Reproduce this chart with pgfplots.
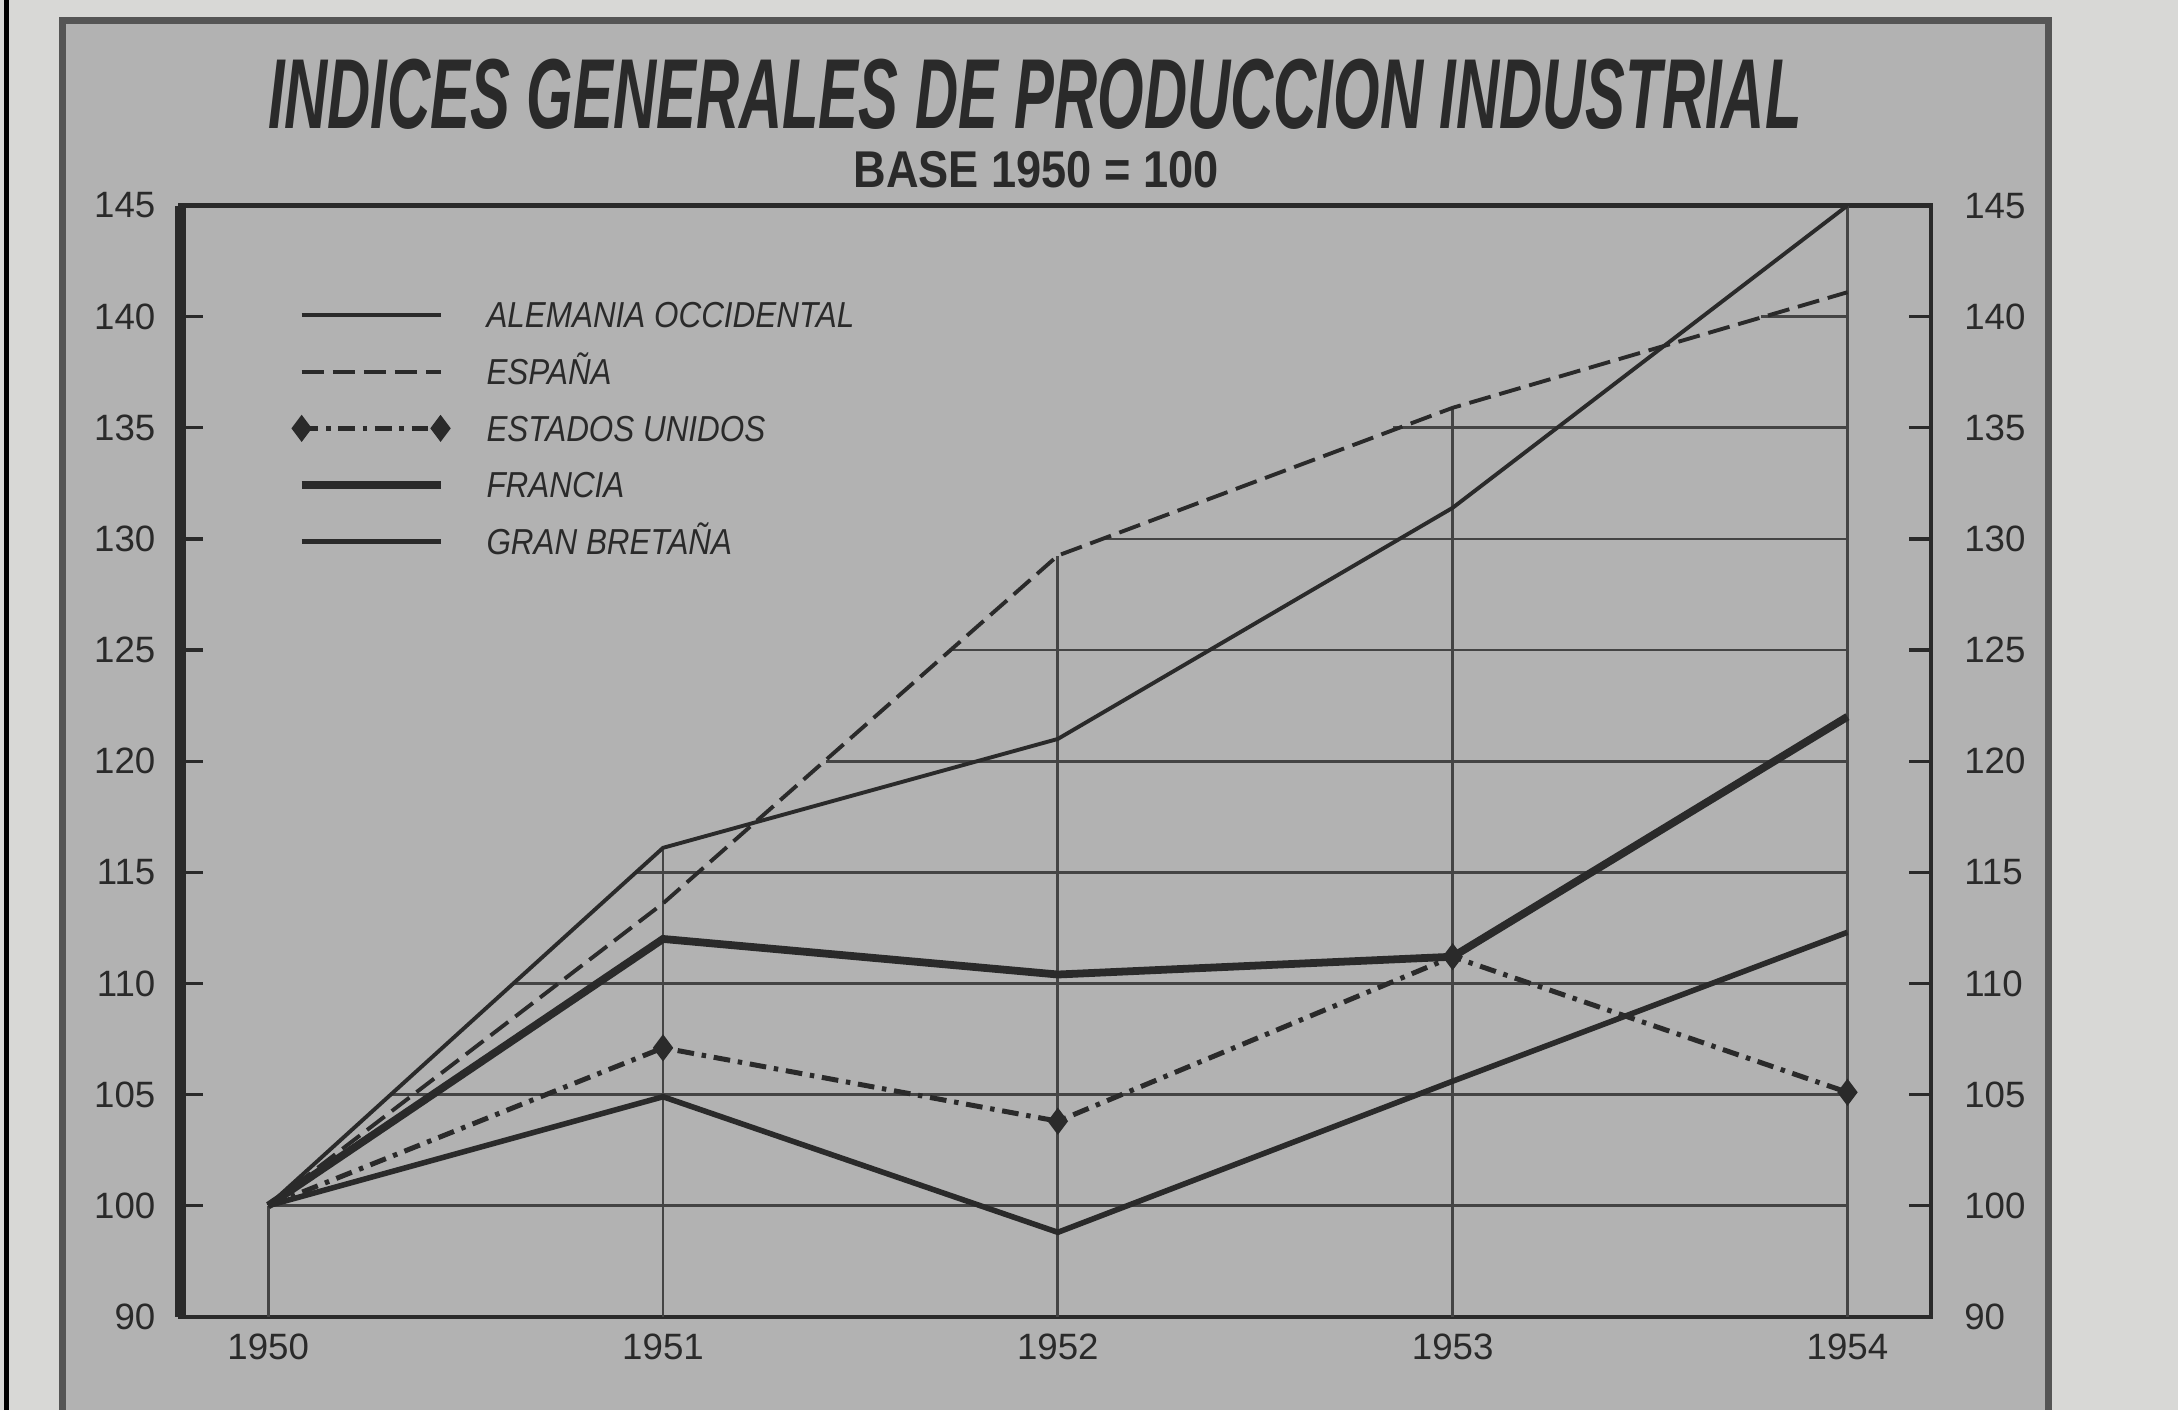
\documentclass[border=0pt]{standalone}
\usepackage{fontspec}
\setmainfont{Liberation Sans}
\usepackage{graphicx}
\usepackage{pgfplots}
\pgfplotsset{compat=1.18}
\definecolor{paper}{HTML}{D8D8D6}
\definecolor{panel}{HTML}{B2B2B2}
\definecolor{ink}{HTML}{2A2A2A}
\definecolor{gridc}{HTML}{444444}
\newcommand\legfont{\fontsize{6.5}{7}\selectfont\itshape}
\newcommand\tickfont{\fontsize{6.6}{8}\selectfont}
\newcommand\leg[1]{\scalebox{0.87}[1]{#1}}

\pgfplotstableread{
year A B C D E
1950 100 100 100 100 100
1951 116.1 113.6 107.1 112.0 104.9
1952 121.0 129.25 103.8 110.4 98.8
1953 131.4 135.9 111.2 111.2 105.6
1954 145.0 141.1 105.1 122.0 112.3
}\datatable

\begin{document}
\begin{tikzpicture}[x=1pt,y=1pt]
\useasboundingbox (0,0) rectangle (392,253.75);
\fill[paper] (0,0) rectangle (392,253.75);
\fill[panel] (11.25,0) rectangle (368.75,250);
\draw[ink!80, line width=1.2pt] (11.25,0) -- (11.25,250) -- (368.75,250) -- (368.75,0);
\draw[black, line width=1pt] (1.2,0) -- (1.2,253.75);
\node[ink] at (186.25,236.75) {\resizebox{276pt}{12.5pt}{\bfseries\itshape INDICES GENERALES DE PRODUCCION INDUSTRIAL}};
\node[ink] at (186.5,223.25) {\resizebox{65.75pt}{6.5pt}{\bfseries BASE 1950 = 100}};

\begin{axis}[
  at={(32.5pt,16.75pt)}, anchor=south west,
  scale only axis, width=315pt, height=200pt,
  xmin=1949.778, xmax=1954.211, ymin=95, ymax=145,
  axis line style={ink, line width=0.8pt},
  xtick={1950,1951,1952,1953,1954},
  xticklabels={1950,1951,1952,1953,1954},
  xtick style={draw=none},
  x tick label style={font=\tickfont, text=ink, yshift=0.5pt},
  ytick={95,100,105,110,115,120,125,130,135,140,145},
  yticklabels={90,100,105,110,115,120,125,130,135,140,145},
  y tick label style={font=\tickfont, text=ink, xshift=-1pt},
  ytick pos=both, tick align=inside, major tick length=4pt,
  ytick style={ink, line width=0.6pt},
  /pgf/number format/assume math mode=true,
  legend style={at={(axis description cs:0.0645,0.914)}, anchor=north west,
    draw=none, fill=none, font=\legfont, text=ink, row sep=5.6pt, column sep=7pt,
    inner sep=0pt, nodes={inner sep=0pt, text height=4.6pt, text depth=0pt}},
  legend cell align=left,
  legend image code/.code={\draw[mark indices={1,2}] plot coordinates {(0pt,0pt) (25pt,0pt)};},
  clip=false,
]
% grid (hand-drawn style: only below the upper curves)
\addplot[gridc, line width=0.5pt, forget plot] coordinates {(1950,100) (1954,100)};
\addplot[gridc, line width=0.5pt, forget plot] coordinates {(1950.311,105) (1954,105)};
\addplot[gridc, line width=0.5pt, forget plot] coordinates {(1950.621,110) (1954,110)};
\addplot[gridc, line width=0.5pt, forget plot] coordinates {(1950.932,115) (1954,115)};
\addplot[gridc, line width=0.5pt, forget plot] coordinates {(1951.413,120) (1954,120)};
\addplot[gridc, line width=0.5pt, forget plot] coordinates {(1951.730,125) (1954,125)};
\addplot[gridc, line width=0.5pt, forget plot] coordinates {(1952.113,130) (1954,130)};
\addplot[gridc, line width=0.5pt, forget plot] coordinates {(1952.850,135) (1954,135)};
\addplot[gridc, line width=0.5pt, forget plot] coordinates {(1953.780,140) (1954,140)};
\addplot[gridc, line width=0.5pt, forget plot] coordinates {(1950,95) (1950,100)};
\addplot[gridc, line width=0.5pt, forget plot] coordinates {(1951,95) (1951,116.1)};
\addplot[gridc, line width=0.5pt, forget plot] coordinates {(1952,95) (1952,129.25)};
\addplot[gridc, line width=0.5pt, forget plot] coordinates {(1953,95) (1953,135.9)};
\addplot[gridc, line width=0.5pt, forget plot] coordinates {(1954,95) (1954,145)};
% left thick double frame line
\draw[ink, line width=2pt] (rel axis cs:0,0) -- (rel axis cs:0,1);
% series
\addplot[ink, line width=0.7pt] table[x=year,y=A] {\datatable};
\addlegendentry{\leg{ALEMANIA OCCIDENTAL}}
\addplot[ink, line width=0.7pt, dash pattern=on 4pt off 1.6pt] table[x=year,y=B] {\datatable};
\addlegendentry{\leg{ESPAÑA}}
\addplot[ink, line width=0.9pt, dash pattern=on 3pt off 1.4pt on 0.8pt off 1.4pt,
  mark=diamond*, mark size=1.7pt, mark indices={2,3,4,5}, mark options={solid, fill=ink}] table[x=year,y=C] {\datatable};
\addlegendentry{\leg{ESTADOS UNIDOS}}
\addplot[ink, line width=1.4pt] table[x=year,y=D] {\datatable};
\addlegendentry{\leg{FRANCIA}}
\addplot[ink, line width=1.0pt] table[x=year,y=E] {\datatable};
\addlegendentry{\leg{GRAN BRETAÑA}}
\end{axis}

\begin{axis}[
  at={(32.5pt,16.75pt)}, anchor=south west,
  scale only axis, width=315pt, height=200pt,
  xmin=1949.778, xmax=1954.211, ymin=95, ymax=145,
  hide x axis,
  axis y line*=right,
  y axis line style={draw=none},
  ytick style={draw=none},
  ytick={95,100,105,110,115,120,125,130,135,140,145},
  yticklabels={90,100,105,110,115,120,125,130,135,140,145},
  y tick label style={font=\tickfont, text=ink, xshift=2.5pt},
  /pgf/number format/assume math mode=true,
]
\addplot[draw=none, forget plot] coordinates {(1950,100) (1954,100)};
\end{axis}
\end{tikzpicture}
\end{document}
